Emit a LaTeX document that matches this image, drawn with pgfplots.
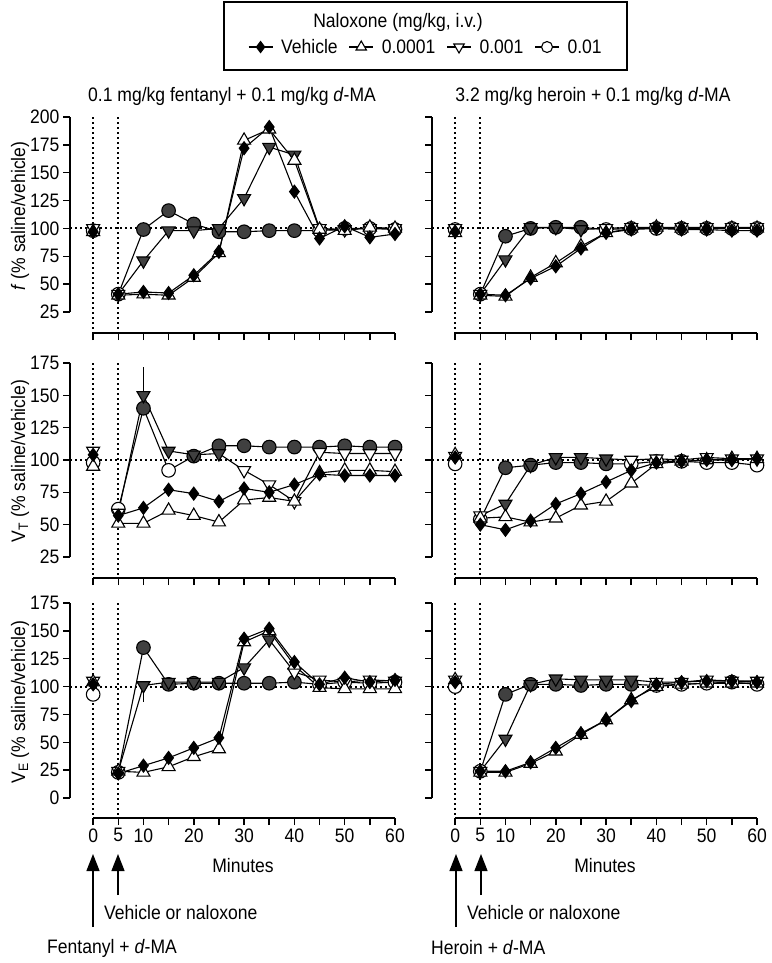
\documentclass[border=0pt]{standalone}
\usepackage{pgfplots}
\pgfplotsset{compat=1.18}
\usepackage{pgfplotstable}
\usepackage{fontspec}
\setmainfont{Liberation Sans}[FakeStretch=0.9]
\usetikzlibrary{arrows.meta}

\definecolor{markgray}{RGB}{64,64,64}
\newcommand{\figfont}{\fontsize{19.5}{23}\selectfont}

% inverted triangle (Prism style)
\pgfdeclareplotmark{tridown*}{%
  \pgfpathmoveto{\pgfqpoint{0pt}{-\pgfplotmarksize}}%
  \pgfpathlineto{\pgfqpointpolar{30}{\pgfplotmarksize}}%
  \pgfpathlineto{\pgfqpointpolar{150}{\pgfplotmarksize}}%
  \pgfpathclose
  \pgfusepathqfillstroke}

% columns: time, vehicle, 0.0001, 0.001 (+fill class, error +/-), 0.01 (+fill class)
% class g = grey filled marker, w = open marker
\pgfplotstableread{
t    veh  up   dn   dc  ci   cc  dp  dm
0    97   97   100  w   98   w   0   0
2.5  nan  nan  nan  w   nan  w   0   0
5    41   40   41   w   41   w   0   0
10   43   41   71   g   99   g   0   0
15   42   40   98   g   116  g   0   0
20   58   56   98   g   104  g   0   0
25   79   78   100  g   97   g   0   0
30   172  179  127  g   97   g   0   0
35   191  189  173  g   98   g   0   0
40   133  161  166  g   98   g   0   0
45   91   99   100  w   98   w   0   0
50   102  98   99   w   100  w   0   0
55   92   101  100  w   100  w   0   0
60   95   100  100  w   99   w   0   0
}\fL

\pgfplotstableread{
t    veh  up   dn   dc  ci   cc  dp  dm
0    97   96   100  w   99   w   0   0
2.5  nan  nan  nan  w   nan  w   0   0
5    41   40   41   w   41   w   0   0
10   40   39   72   g   93   g   0   0
15   55   56   101  g   100  g   0   0
20   66   69   101  g   101  g   0   0
25   82   84   99   g   101  g   0   0
30   96   96   100  w   99   w   0   0
35   99   100  101  w   100  w   0   0
40   100  101  101  w   100  w   0   0
45   99   100  101  w   100  w   0   0
50   99   100  101  w   100  w   0   0
55   98   100  101  w   100  w   0   0
60   98   100  101  w   100  w   0   0
}\fR

\pgfplotstableread{
t    veh  up   dn   dc  ci   cc  dp  dm
0    104  95   107  w   98   w   0   0
2.5  nan  nan  nan  w   nan  w   0   0
5    57   51   59   w   62   w   0   0
10   63   51   150  g   140  g   22  0
15   77   61   107  g   92   w   0   0
20   74   57   104  g   103  g   0   0
25   68   52   105  g   111  g   0   0
30   78   69   92   w   111  g   0   0
35   75   71   81   w   110  g   0   0
40   81   68   68   w   110  g   0   0
45   89   90   106  w   110  g   0   0
50   88   92   105  w   111  g   0   0
55   88   92   105  w   110  g   0   0
60   88   91   105  w   110  g   0   0
}\vL

\pgfplotstableread{
t    veh  up   dn   dc  ci   cc  dp  dm
0    102  104  103  w   97   w   0   0
2.5  nan  nan  nan  w   nan  w   0   0
5    50   55   57   w   54   w   0   0
10   46   56   66   g   94   g   0   0
15   53   52   96   g   96   g   0   0
20   66   55   102  g   98   g   0   0
25   74   65   102  g   98   g   0   0
30   83   68   101  g   97   g   0   0
35   92   82   100  w   97   w   0   0
40   98   97   101  w   99   w   0   0
45   99   99   100  w   99   w   0   0
50   100  100  102  w   98   w   0   0
55   100  101  101  w   98   w   0   0
60   101  101  101  w   96   w   0   0
}\vR

\pgfplotstableread{
t    veh  up   dn   dc  ci   cc  dp  dm
0    102  104  105  w   93   w   0   0
2.5  nan  nan  nan  w   nan  w   0   0
5    22   24   24   w   23   w   0   0
10   29   23   101  g   135  g   0   15
15   36   28   104  g   102  g   0   0
20   45   37   104  g   103  g   0   0
25   54   44   104  g   103  g   0   0
30   143  140  117  g   103  g   0   0
35   152  150  142  g   103  g   0   0
40   122  119  113  w   104  g   0   0
45   102  99   106  w   102  w   0   0
50   108  98   104  w   104  w   0   0
55   104  98   106  w   103  w   0   0
60   106  98   105  w   104  w   0   0
}\eL

\pgfplotstableread{
t    veh  up   dn   dc  ci   cc  dp  dm
0    104  106  106  w   100  w   0   0
2.5  nan  nan  nan  w   nan  w   0   0
5    24   23   24   w   24   w   0   0
10   24   23   53   g   93   g   0   0
15   32   31   102  g   102  g   0   0
20   45   42   107  g   102  g   0   0
25   58   57   106  g   101  g   0   0
30   70   70   106  g   102  g   0   0
35   87   88   106  g   102  g   0   0
40   102  100  104  w   101  w   0   0
45   104  102  104  w   102  w   0   0
50   105  103  106  w   103  w   0   0
55   105  103  105  w   104  w   0   0
60   104  103  105  w   102  w   0   0
}\eR

\tikzset{
  dotline/.style={line width=2pt, dash pattern=on 2pt off 3pt},
  axline/.style={line width=1.5pt},
  upar/.style={line width=1.3pt, -{Triangle[length=17pt,width=13pt]}},
}

\pgfplotsset{
  panel/.style={scale only axis, width=325pt, xmin=-4.6, xmax=60,
    axis lines*=left, axis line style={draw=none},
    tick align=outside, major tick length=7pt,
    every tick/.style={black, line width=1.5pt},
    xtick={0,5,...,60}, clip=false, unbounded coords=jump,
    tick label style={font=\figfont},
    /pgf/number format/assume math mode=true},
  ser/.style={black, line width=1.1pt, forget plot},
  veh/.style={ser, mark=diamond*, mark size=6.4pt,
    mark options={solid, draw=black, fill=black, line width=1.1pt}},
  up/.style={ser, mark=triangle*, mark size=7.5pt,
    mark options={solid, draw=black, fill=white, line width=1.1pt}},
  cls/.style={scatter, scatter src=explicit symbolic,
    scatter/classes={w={fill=white}, g={fill=markgray}}},
  dn/.style={ser, cls, mark=tridown*, mark size=7.5pt,
    mark options={solid, draw=black, line width=1.1pt}},
  ci/.style={ser, cls, mark=*, mark size=6.8pt,
    mark options={solid, draw=black, line width=1.1pt}},
}

% dotted guides and offset axis lines: #1 axis bottom, #2 lowest tick, #3 top tick
\newcommand{\decor}[3]{%
  \draw[dotline] (axis cs:0,#3) -- (axis cs:0,#1);
  \draw[dotline] (axis cs:5,#3) -- (axis cs:5,#1);
  \draw[dotline] (axis cs:-4.6,100) -- (axis cs:61.5,100);
  \draw[axline] (axis cs:-4.6,#2) -- (axis cs:-4.6,#3);
  \draw[axline] (axis cs:0,#1) -- (axis cs:60,#1);
}

\newcommand{\series}[1]{%
  \addplot[ci] table[x=t, y=ci, meta=cc] {#1};
  \addplot[dn, error bars/.cd, y dir=both, y explicit, error mark=none,
    error bar style={black, line width=1.1pt}]
    table[x=t, y=dn, meta=dc, y error plus=dp, y error minus=dm] {#1};
  \addplot[up] table[x=t, y=up] {#1};
  \addplot[veh] table[x=t, y=veh] {#1};
}

\begin{document}
\begin{tikzpicture}
\path[use as bounding box] (0,0) rectangle (771pt,-963pt);

% ---- f ----
\begin{axis}[panel, at={(70pt,-333pt)}, anchor=south west, height=216pt,
  ymin=6.15, ymax=200, ytick={25,50,...,200}, xticklabels={},
  legend columns=4,
  legend style={draw=none, fill=none, font=\figfont, at={(1.095,1.324)}, anchor=center,
    /tikz/every even column/.append style={column sep=9pt},
    /tikz/every odd column/.append style={column sep=6pt}},
  legend image code/.code={\draw[mark repeat=2,mark phase=2,#1]
    plot coordinates {(0pt,0pt)(12pt,0pt)(24pt,0pt)};}]
  \addlegendimage{black, line width=1.1pt, mark=diamond*, mark size=5.5pt,
    mark options={solid, fill=black}}
  \addlegendimage{black, line width=1.1pt, mark=triangle*, mark size=6pt,
    mark options={solid, fill=white}}
  \addlegendimage{black, line width=1.1pt, mark=tridown*, mark size=6pt,
    mark options={solid, fill=white}}
  \addlegendimage{black, line width=1.1pt, mark=*, mark size=5.5pt,
    mark options={solid, fill=white}}
  \legend{Vehicle,0.0001,0.001,0.01}
  \decor{6.15}{25}{200}
  \series{\fL}
\end{axis}

\begin{axis}[panel, at={(432pt,-333pt)}, anchor=south west, height=216pt,
  ymin=6.15, ymax=200, ytick={25,50,...,200}, xticklabels={}, yticklabels={}]
  \decor{6.15}{25}{200}
  \series{\fR}
\end{axis}

% ---- VT ----
\begin{axis}[panel, at={(70pt,-578pt)}, anchor=south west, height=215pt,
  ymin=8.76, ymax=175, ytick={25,50,...,175}, xticklabels={}]
  \decor{8.76}{25}{175}
  \series{\vL}
\end{axis}

\begin{axis}[panel, at={(432pt,-578pt)}, anchor=south west, height=215pt,
  ymin=8.76, ymax=175, ytick={25,50,...,175}, xticklabels={}, yticklabels={}]
  \decor{8.76}{25}{175}
  \series{\vR}
\end{axis}

% ---- VE ----
\begin{axis}[panel, at={(70pt,-818pt)}, anchor=south west, height=215pt,
  ymin=-17.95, ymax=175, ytick={0,25,...,175},
  xticklabels={0,5,10,,20,,30,,40,,50,,60}]
  \decor{-17.95}{0}{175}
  \series{\eL}
\end{axis}

\begin{axis}[panel, at={(432pt,-818pt)}, anchor=south west, height=215pt,
  ymin=-17.95, ymax=175, ytick={0,25,...,175}, yticklabels={},
  xticklabels={0,5,10,,20,,30,,40,,50,,60}]
  \decor{-17.95}{0}{175}
  \series{\eR}
\end{axis}

% legend frame and title
\draw[line width=1.3pt] (224pt,-2pt) rectangle (627pt,-70pt);
\node[font=\figfont] at (398pt,-22pt) {Naloxone (mg/kg, i.v.)};

% panel titles and y labels
\node[font=\figfont] at (232pt,-96pt) {0.1 mg/kg fentanyl + 0.1 mg/kg \textit{d}-MA};
\node[font=\figfont] at (593pt,-96pt) {3.2 mg/kg heroin + 0.1 mg/kg \textit{d}-MA};
\node[font=\figfont, rotate=90] at (20pt,-216pt) {\textit{f} (\% saline/vehicle)};
\node[font=\figfont, rotate=90] at (20pt,-461pt) {V\textsubscript{T} (\% saline/vehicle)};
\node[font=\figfont, rotate=90] at (20pt,-702pt) {V\textsubscript{E} (\% saline/vehicle)};

% x labels and injection arrows
\node[font=\figfont] at (243pt,-866pt) {Minutes};
\node[font=\figfont] at (605pt,-866pt) {Minutes};
\draw[upar] (93pt,-927pt) -- (93pt,-854pt);
\draw[upar] (118pt,-895pt) -- (118pt,-854pt);
\draw[upar] (456pt,-927pt) -- (456pt,-854pt);
\draw[upar] (481pt,-895pt) -- (481pt,-854pt);
\node[font=\figfont, anchor=west, inner sep=0pt] at (104pt,-913pt) {Vehicle or naloxone};
\node[font=\figfont, anchor=west, inner sep=0pt] at (467pt,-913pt) {Vehicle or naloxone};
\node[font=\figfont, anchor=west, inner sep=0pt] at (47pt,-948pt) {Fentanyl + \textit{d}-MA};
\node[font=\figfont, anchor=west, inner sep=0pt] at (431pt,-948pt) {Heroin + \textit{d}-MA};
\end{tikzpicture}
\end{document}
